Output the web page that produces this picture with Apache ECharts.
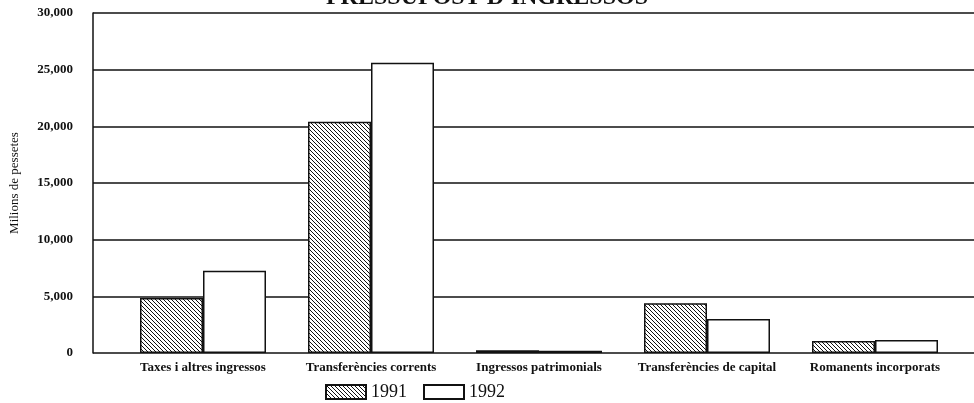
<!DOCTYPE html>
<html>
<head>
<meta charset="utf-8">
<script src="https://cdn.jsdelivr.net/npm/echarts@6/dist/echarts.min.js"></script>
<style>
  html, body { margin: 0; padding: 0; background: #fff; }
  #chart { width: 974px; height: 403px; }
</style>
</head>
<body>
<div id="chart"></div>
<script>
const categories = ['Taxes i altres ingressos', 'Transferències corrents', 'Ingressos patrimonials', 'Transferències de capital', 'Romanents incorporats']
const values1991 = [4850, 20400, 250, 4400, 1050]
const values1992 = [7250, 25600, 200, 3000, 1150]
const yTicks = [0, 5000, 10000, 15000, 20000, 25000, 30000]

const chart = echarts.init(document.getElementById('chart'))

// hatch pattern for 1991
const makeHatch = () => {
  const s = 4
  const c = document.createElement('canvas')
  c.width = s
  c.height = s
  const ctx = c.getContext('2d')
  ctx.fillStyle = '#fff'
  ctx.fillRect(0, 0, s, s)
  ctx.strokeStyle = '#111'
  ctx.lineWidth = 1
  ctx.beginPath()
  ctx.moveTo(-1, -1); ctx.lineTo(s + 1, s + 1)
  ctx.moveTo(-1, s - 1); ctx.lineTo(1, s + 1)
  ctx.moveTo(s - 1, -1); ctx.lineTo(s + 1, 1)
  ctx.stroke()
  return c
}
const hatch = { image: makeHatch(), repeat: 'repeat' }

const serif = 'Liberation Serif'
const yFmt = v => v === 0 ? '0' : v.toLocaleString('en-US')

const option = {
  animation: false,
  backgroundColor: '#fff',
  title: {
    text: "PRESSUPOST D'INGRESSOS",
    left: 'center',
    top: -19,
    textStyle: { fontFamily: serif, fontSize: 24, fontWeight: 'bold', color: '#111' }
  },
  legend: {
    left: 320,
    top: 378,
    icon: 'rect',
    itemWidth: 40,
    itemHeight: 14,
    itemGap: 16,
    textStyle: { fontFamily: serif, fontSize: 18, color: '#111' },
    data: ['1991', '1992']
  },
  grid: [
    { left: 93, right: 0, top: 13, bottom: 50 },
    { left: 119, right: 15, top: 13, bottom: 50 }
  ],
  xAxis: [
    { gridIndex: 0, type: 'value', show: false, min: 0, max: 1 },
    {
      gridIndex: 1,
      type: 'category',
      data: categories,
      axisLine: { show: false },
      axisTick: { show: false },
      axisLabel: { fontFamily: serif, fontSize: 13, fontWeight: 'bold', color: '#111', margin: 8, interval: 0 }
    }
  ],
  yAxis: [
    {
      gridIndex: 0,
      type: 'value',
      min: 0,
      max: 30000,
      interval: 5000,
      name: 'Milions de pessetes',
      nameLocation: 'middle',
      nameGap: 72,
      nameTextStyle: { fontFamily: serif, fontSize: 13, color: '#111' },
      axisLine: { show: true, lineStyle: { color: '#111', width: 1.5 } },
      axisTick: { show: false },
      axisLabel: { fontFamily: serif, fontSize: 13, fontWeight: 'bold', color: '#111', margin: 20, formatter: yFmt },
      splitLine: { show: true, lineStyle: { color: '#111', width: 1.5 } }
    },
    { gridIndex: 1, type: 'value', min: 0, max: 30000, interval: 5000, show: false, splitLine: { show: false } }
  ],
  series: [
    {
      name: '1991',
      type: 'bar',
      xAxisIndex: 1,
      yAxisIndex: 1,
      data: values1991,
      barGap: '0%',
      barCategoryGap: '25%',
      itemStyle: { color: hatch, borderColor: '#111', borderWidth: 1.5 }
    },
    {
      name: '1992',
      type: 'bar',
      xAxisIndex: 1,
      yAxisIndex: 1,
      data: values1992,
      barGap: '0%',
      barCategoryGap: '25%',
      itemStyle: { color: '#fff', borderColor: '#111', borderWidth: 1.5 }
    }
  ]
}
chart.setOption(option)
</script>
</body>
</html>
